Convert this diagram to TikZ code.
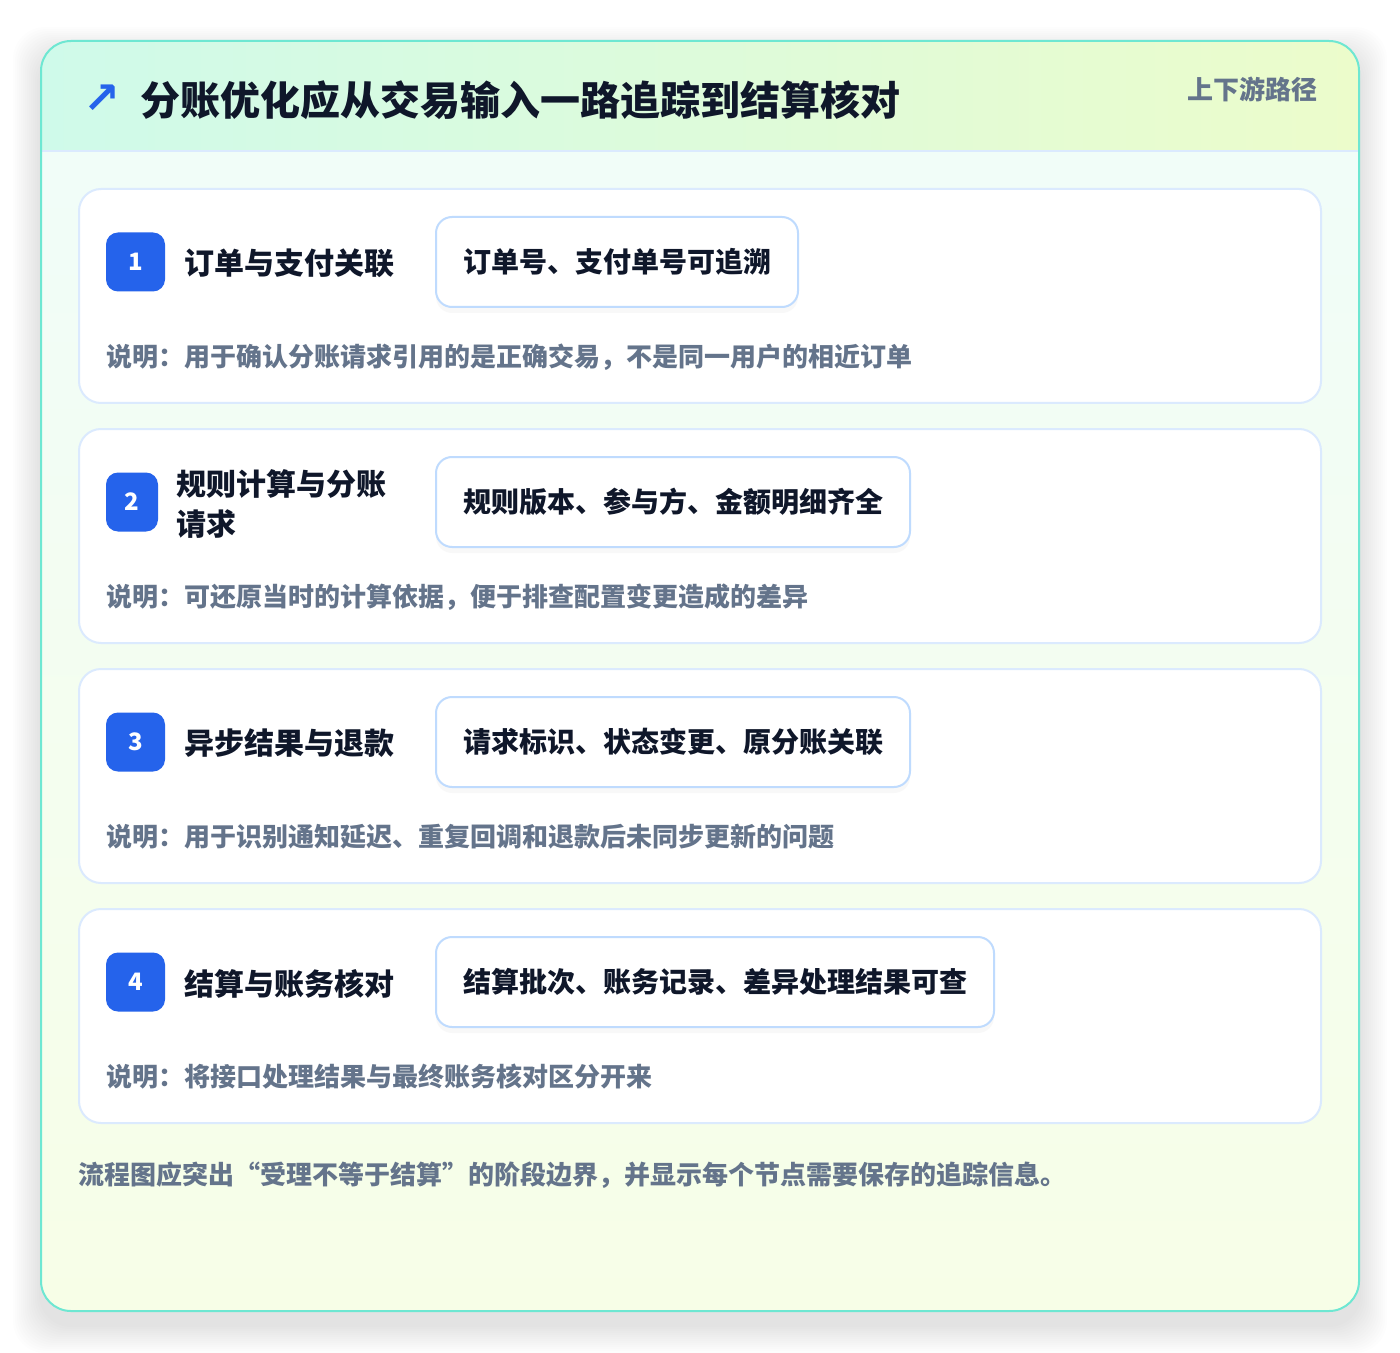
\documentclass[tikz,border=0pt]{standalone}
\usepackage{fontspec}
\setmainfont{Noto Sans CJK SC}
\newfontfamily\symfont{DejaVu Sans}
\usepackage{xcolor}
\usetikzlibrary{positioning,calc,shadows}

\definecolor{ink}{HTML}{0F172A}
\definecolor{muted}{HTML}{64748B}
\definecolor{badgeblue}{HTML}{2563EB}
\definecolor{cardline}{HTML}{DBEAFE}
\definecolor{tagline}{HTML}{BFDBFE}
\definecolor{panelline}{HTML}{6EE7D2}
\definecolor{headl}{HTML}{CFFAEA}
\definecolor{headr}{HTML}{ECFCCB}
\definecolor{bodytop}{HTML}{F0FDFA}
\definecolor{bodybottom}{HTML}{F7FEE7}

\begin{document}
\begin{tikzpicture}[x=0.5pt,y=-0.5pt,
    card/.style={draw=cardline,line width=1pt,fill=white,rounded corners=11pt},
    badge/.style={fill=badgeblue,text=white,rounded corners=6pt,minimum width=29.5pt,minimum height=29.5pt,inner sep=0pt,font=\fontsize{12}{14}\selectfont\bfseries},
    stage/.style={anchor=west,text=ink,inner sep=0pt,align=left,font=\fontsize{15}{20}\selectfont\bfseries},
    tag/.style={anchor=west,draw=tagline,line width=1pt,fill=white,rounded corners=8pt,minimum height=45pt,inner xsep=13.5pt,text=ink,font=\fontsize{14}{16}\selectfont\bfseries,
        drop shadow={opacity=0.05,shadow xshift=0pt,shadow yshift=-3pt}},
    note/.style={anchor=west,inner sep=0pt,text=muted,font=\fontsize{13}{15}\selectfont\bfseries}]
    \useasboundingbox (0,0) rectangle (1400,1352);
    \fill[white] (0,0) rectangle (1400,1352);

    % soft shadow under the panel
    \foreach \s in {2,4,...,28}
        \fill[black,opacity=0.006,rounded corners=16pt] (41-\s,55-\s) rectangle (1359+\s,1325+\s);

    % panel and header band
    \fill[top color=bodytop,bottom color=bodybottom,rounded corners=15pt] (41,41) rectangle (1359,1311);
    \begin{scope}
        \clip[rounded corners=15pt] (41,41) rectangle (1359,1311);
        \fill[left color=headl,right color=headr] (41,41) rectangle (1359,151);
    \end{scope}
    \draw[cardline,line width=1pt] (41,151) -- (1359,151);
    \draw[panelline,line width=1pt,rounded corners=15pt] (41,41) rectangle (1359,1311);

    \node[text=badgeblue,inner sep=0pt,font=\symfont\fontsize{22}{24}\selectfont\bfseries] (icon) at (102,99) {↗};
    \node[anchor=west,inner sep=0pt,text=ink,font=\fontsize{20}{24}\selectfont\bfseries] (title) at (140,100) {分账优化应从交易输入一路追踪到结算核对};
    \node[anchor=east,inner sep=0pt,text=muted,font=\fontsize{13}{15}\selectfont\bfseries] (route) at (1318,89) {上下游路径};

    % stage 1
    \draw[card] (79,189) rectangle (1321,403);
    \node[badge] (b1) at (135.5,262) {1};
    \node[stage] (s1) at (184,263) {订单与支付关联};
    \node[tag] (t1) at (435,262) {订单号、支付单号可追溯};
    \node[note] (n1) at (106,357) {说明：用于确认分账请求引用的是正确交易，不是同一用户的相近订单};

    % stage 2
    \draw[card] (79,429) rectangle (1321,643);
    \node[badge,minimum width=26pt] (b2) at (132,502) {2};
    \node[stage] (s2) at (176,504) {规则计算与分账\\请求};
    \node[tag] (t2) at (435,502) {规则版本、参与方、金额明细齐全};
    \node[note] (n2) at (106,597) {说明：可还原当时的计算依据，便于排查配置变更造成的差异};

    % stage 3
    \draw[card] (79,669) rectangle (1321,883);
    \node[badge] (b3) at (135.5,742) {3};
    \node[stage] (s3) at (184,743) {异步结果与退款};
    \node[tag] (t3) at (435,742) {请求标识、状态变更、原分账关联};
    \node[note] (n3) at (106,837) {说明：用于识别通知延迟、重复回调和退款后未同步更新的问题};

    % stage 4
    \draw[card] (79,909) rectangle (1321,1123);
    \node[badge] (b4) at (135.5,982) {4};
    \node[stage] (s4) at (184,984) {结算与账务核对};
    \node[tag] (t4) at (435,982) {结算批次、账务记录、差异处理结果可查};
    \node[note] (n4) at (106,1077) {说明：将接口处理结果与最终账务核对区分开来};

    \node[note] (foot) at (78,1175) {流程图应突出“受理不等于结算”的阶段边界，并显示每个节点需要保存的追踪信息。};
\end{tikzpicture}
\end{document}
